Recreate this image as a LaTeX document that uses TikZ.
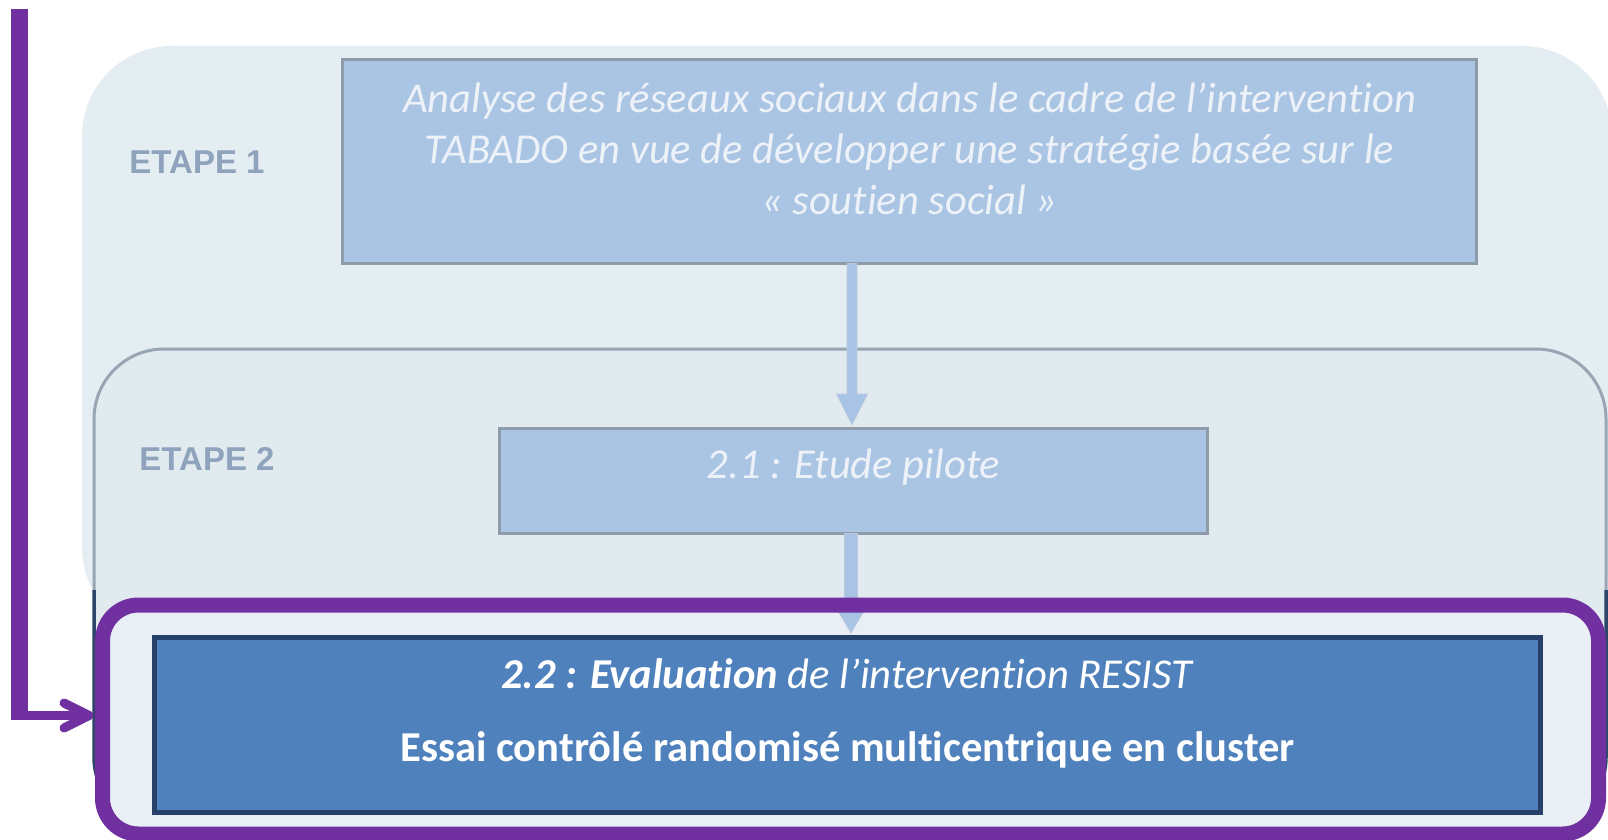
\documentclass[tikz,border=0pt]{standalone}
\usepackage{fontspec}
\setmainfont{Carlito}[Ligatures=NoCommon]
\newfontfamily\etapefont{Liberation Sans}
\usetikzlibrary{calc}
\definecolor{etapebg}{HTML}{E4EDF1}
\definecolor{etapebgb}{HTML}{E1EAEF}
\definecolor{innerbg}{HTML}{E9EFF5}
\definecolor{fadebox}{HTML}{AAC4E4}
\definecolor{fadeborder}{HTML}{8D9BAA}
\definecolor{fadetext}{HTML}{EDF2F8}
\definecolor{etapetext}{HTML}{8FA3BD}
\definecolor{arrfill}{HTML}{A9C3E4}
\definecolor{violet}{HTML}{7030A0}
\definecolor{mainbox}{HTML}{4F81BD}
\definecolor{mainborder}{HTML}{26426A}
\definecolor{navyedge}{HTML}{2B4668}
\tikzset{
  fadedbox/.style={draw=fadeborder, line width=3pt, fill=fadebox, rectangle, inner sep=0pt},
  fadedtxt/.style={text=fadetext, font=\fontsize{42.6}{51}\selectfont\itshape, align=center},
  etapelbl/.style={text=etapetext, font=\etapefont\bfseries\fontsize{33}{38}\selectfont},
  mainboxst/.style={draw=mainborder, line width=5pt, fill=mainbox, rectangle, inner sep=0pt},
  blockarr/.style={fill=arrfill, draw=arrfill!85!black!60, line width=0.6pt},
  fbline/.style={draw=violet, line width=17pt},
  fbarm/.style={draw=violet, line width=9pt, line cap=round, line join=round},
}
\newcommand\blockarrow[5]{% start, tip, shaft half-width, head half-width, head length
  \path[blockarr] ($(#1)+(-#3,0)$) -- ($(#2)+(-#3,-#5)$) -- ($(#2)+(-#4,-#5)$) -- (#2)
     -- ($(#2)+(#4,-#5)$) -- ($(#2)+(#3,-#5)$) -- ($(#1)+(#3,0)$) -- cycle;}
\begin{document}
\begin{tikzpicture}[x=1pt,y=-1pt]
\useasboundingbox (0,0) rectangle (1608,840);
\fill[white] (0,0) rectangle (1608,840);

% ETAPE 1 container
\fill[etapebg, rounded corners=90pt] (82,46) rectangle (1612,637);
% ETAPE 2 container
\fill[etapebgb, rounded corners=70pt] (94,349) rectangle (1606,827);
\begin{scope}
  \clip (0,0) rectangle (1608,590);
  \draw[fadeborder!90!white, line width=3pt, rounded corners=70pt] (94,349) rectangle (1606,827);
\end{scope}
\begin{scope}
  \clip (0,590) rectangle (1608,840);
  \draw[navyedge, line width=3.5pt, rounded corners=70pt] (94,349) rectangle (1606,827);
\end{scope}
% lighter area inside the purple frame
\fill[innerbg, rounded corners=36pt] (102.5,605) rectangle (1598.5,834);

\node[etapelbl] (e1) at (197,162) {ETAPE 1};
\node[etapelbl] (e2) at (207,459) {ETAPE 2};

% faded boxes
\node[fadedbox, minimum width=1134pt, minimum height=204pt] (b1) at (909.5,161.5) {};
\node[fadedtxt] (t1) at (909.5,149) {Analyse des réseaux sociaux dans le cadre de l’intervention\\TABADO en vue de développer une stratégie basée sur le\\« soutien social »};
\node[fadedbox, minimum width=708pt, minimum height=105pt] (b21) at (853.5,481) {};
\node[fadedtxt, anchor=base] (t21) at (853.5,478) {2.1 : Etude pilote};

% block arrows
\coordinate (a1s) at ($(b1.south)+(-57.5,-1.5)$);
\coordinate (a1e) at ($(b21.north)+(-1.5,-2)$);
\blockarrow{a1s}{a1e}{5}{15.5}{31}
\coordinate (a2s) at ($(b21.south)+(-2.5,-1.5)$);
\coordinate (a2e) at (851,633);
\blockarrow{a2s}{a2e}{6.5}{13}{22}

% purple frame
\draw[violet, line width=15pt, rounded corners=36pt] (102.5,605) rectangle (1598.5,834);
\coordinate (pw) at (95,715.5);

% main box
\node[mainboxst, minimum width=1386pt, minimum height=175pt] (b22) at (847.5,725) {};
\node[text=white, font=\fontsize{42.6}{73}\selectfont, align=center] (t22) at (847.5,713) {\textbf{\textit{2.2 : Evaluation}} \textit{de l’intervention RESIST}\\\textbf{Essai contrôlé randomisé multicentrique en cluster}};

% feedback arrow
\coordinate (fbtop) at (19.5,9);
\coordinate (fbcorner) at (19.5,715.5);
\draw[fbline] (fbtop) -- ($(fbcorner)+(0,4.5)$);
\draw[fbarm, line cap=butt] ($(fbcorner)+(-8,0)$) -- ($(pw)+(-4,0)$);
\draw[fbarm] ($(pw)+(-31,-12.5)$) -- ($(pw)+(-6,0)$) -- ($(pw)+(-31,12.5)$);
\end{tikzpicture}
\end{document}
